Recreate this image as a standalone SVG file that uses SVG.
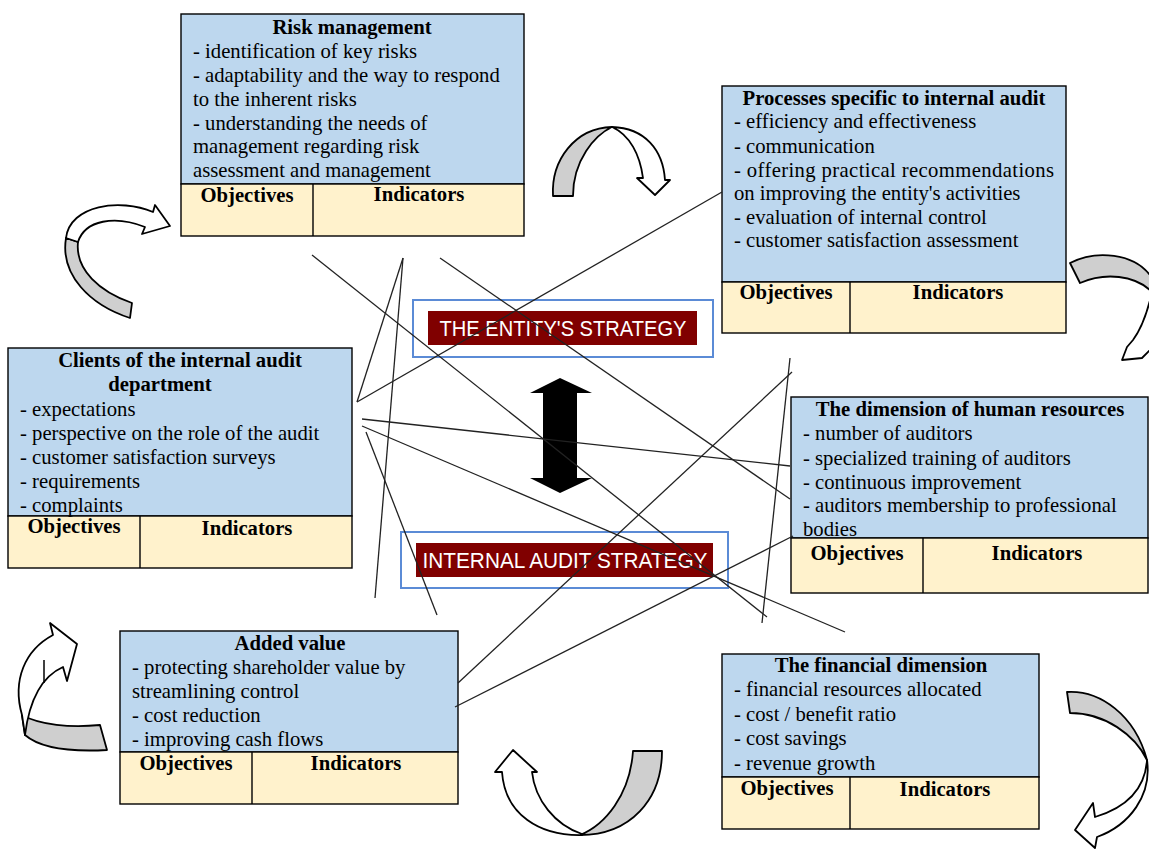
<svg xmlns="http://www.w3.org/2000/svg" width="1149" height="850" viewBox="0 0 1149 850">
<style>
.blue{fill:#BDD7EE;stroke:#000;stroke-width:1.4}
.beige{fill:#FFF2CC;stroke:#000;stroke-width:1.4}
.div{stroke:#000;stroke-width:1.4}
text{font-family:"Liberation Serif","Times New Roman",serif;font-size:20.7px;fill:#000}
.t{font-weight:bold;text-anchor:middle}
.h{font-weight:bold;text-anchor:middle}
.ln{stroke:#222;stroke-width:1.3;fill:none}
.gray{fill:#CFCFCF;stroke:#000;stroke-width:1.8;stroke-linejoin:round}
.white{fill:#fff;stroke:#000;stroke-width:1.8;stroke-linejoin:round}
.sb{fill:#fff;stroke:#5B8BD6;stroke-width:2}
.sr{fill:#800000}
.st{font-family:"Liberation Sans",Arial,sans-serif;font-size:22px;fill:#fff;text-anchor:middle}
</style>
<rect width="1149" height="850" fill="#fff"/>

<g id="curved-arrows">
<path class="gray" d="M130,318 C90,305 60,275 66,238 L78,242 C75,270 100,292 132,303 Z"/>
<path class="white" d="M66,238 C70,205 120,198 153,212 L155,205 L170,226 L142,234 L145,227 C115,215 85,220 78,242 Z"/>
<path class="gray" d="M553,196 C551,160 575,128 612,127 C595,135 573,160 573,196 Z"/>
<path class="white" d="M612,127 C645,128 663,150 665,180 L670,180 L655,195 L637,178 L643,178 C640,155 630,135 612,127 Z"/>
<path class="gray" d="M1070,263 C1095,250 1135,252 1152,278 L1152,292 C1135,275 1105,272 1080,283 Z"/>
<path class="white" d="M1152,280 C1165,300 1162,330 1152,348 L1142,358 L1122,360 L1127,347 L1133,340 C1142,328 1148,310 1152,292 Z"/>
<path class="gray" d="M22,715 C40,725 70,728 100,725 L107,750 C70,752 40,748 25,735 Z"/>
<path class="white" d="M22,715 C12,680 25,650 53,635 L50,623 L77,644 L67,681 L63,667 C45,675 30,695 25,735 Z"/>
<line x1="44" y1="660" x2="44" y2="683" stroke="#000" stroke-width="1.5"/>
<path class="gray" d="M633,751 L662,751 C662,800 630,835 580,835 C605,825 630,795 633,751 Z"/>
<path class="white" d="M582,835 C540,836 505,815 502,772 L495,772 L513,750 L537,772 L532,772 C535,800 555,825 582,834 Z"/>
<path class="gray" d="M1067,692 C1100,690 1135,715 1147,760 C1135,735 1105,713 1070,713 Z"/>
<path class="white" d="M1147,760 C1152,795 1130,825 1097,837 L1095,848 L1075,830 L1093,803 L1095,817 C1125,808 1145,790 1147,760 Z"/>
</g>

<g id="strategy-entity">
<rect class="sb" x="413" y="300" width="300" height="57"/>
<rect class="sr" x="428" y="311" width="269" height="34"/>
<text class="st" x="563" y="336" textLength="247" lengthAdjust="spacingAndGlyphs">THE ENTITY'S STRATEGY</text>
</g>
<g id="strategy-audit">
<rect class="sb" x="401" y="532" width="327" height="56"/>
<rect class="sr" x="416" y="543" width="297" height="34"/>
<text class="st" x="565" y="568" textLength="285" lengthAdjust="spacingAndGlyphs">INTERNAL AUDIT STRATEGY</text>
</g>
<g id="double-arrow">
<path d="M560,378 L592,393 L577,393 L577,478 L592,478 L560,493 L530,478 L543,478 L543,393 L530,393 Z" fill="#000"/>
</g>

<g id="risk-management">
<rect class="blue" x="181" y="14" width="343" height="170"/>
<rect class="beige" x="181" y="184" width="343" height="52"/>
<line class="div" x1="313" y1="184" x2="313" y2="236"/>
<text class="t" x="352" y="34">Risk management</text>
<text x="193" y="58">- identification of key risks</text>
<text x="193" y="82">- adaptability and the way to respond</text>
<text x="193" y="106">to the inherent risks</text>
<text x="193" y="130">- understanding the needs of</text>
<text x="193" y="153">management regarding risk</text>
<text x="193" y="177">assessment and management</text>
<text class="h" x="247" y="202">Objectives</text>
<text class="h" x="419" y="201">Indicators</text>
</g>

<g id="processes">
<rect class="blue" x="722" y="86" width="344" height="196"/>
<rect class="beige" x="722" y="282" width="344" height="51"/>
<line class="div" x1="850" y1="282" x2="850" y2="333"/>
<text class="t" x="894" y="105">Processes specific to internal audit</text>
<text x="734" y="128">- efficiency and effectiveness</text>
<text x="734" y="153">- communication</text>
<text x="734" y="177" textLength="320" lengthAdjust="spacing">-  offering  practical  recommendations</text>
<text x="734" y="200">on improving the entity's activities</text>
<text x="734" y="224">- evaluation of internal control</text>
<text x="734" y="247">- customer satisfaction assessment</text>
<text class="h" x="786" y="299">Objectives</text>
<text class="h" x="958" y="299">Indicators</text>
</g>

<g id="clients">
<rect class="blue" x="8" y="348" width="344" height="168"/>
<rect class="beige" x="8" y="516" width="344" height="52"/>
<line class="div" x1="140" y1="516" x2="140" y2="568"/>
<text class="t" x="180" y="367">Clients of the internal audit</text>
<text class="t" x="160" y="391">department</text>
<text x="20" y="416">- expectations</text>
<text x="20" y="440">- perspective on the role of the audit</text>
<text x="20" y="464">- customer satisfaction surveys</text>
<text x="20" y="488">- requirements</text>
<text x="20" y="512">- complaints</text>
<text class="h" x="74" y="533">Objectives</text>
<text class="h" x="247" y="535">Indicators</text>
</g>

<g id="human-resources">
<rect class="blue" x="791" y="397" width="357" height="141"/>
<rect class="beige" x="791" y="538" width="357" height="55"/>
<line class="div" x1="923" y1="538" x2="923" y2="593"/>
<text class="t" x="970" y="416">The dimension of human resources</text>
<text x="803" y="440">- number of auditors</text>
<text x="803" y="465">- specialized training of auditors</text>
<text x="803" y="489">- continuous improvement</text>
<text x="803" y="512">- auditors membership to professional</text>
<text x="803" y="536">bodies</text>
<text class="h" x="857" y="560">Objectives</text>
<text class="h" x="1037" y="560">Indicators</text>
</g>

<g id="added-value">
<rect class="blue" x="120" y="631" width="338" height="121"/>
<rect class="beige" x="120" y="752" width="338" height="52"/>
<line class="div" x1="252" y1="752" x2="252" y2="804"/>
<text class="t" x="290" y="650">Added value</text>
<text x="132" y="674">- protecting shareholder value by</text>
<text x="132" y="698">streamlining control</text>
<text x="132" y="722">- cost reduction</text>
<text x="132" y="746">- improving cash flows</text>
<text class="h" x="186" y="770">Objectives</text>
<text class="h" x="356" y="770">Indicators</text>
</g>

<g id="financial">
<rect class="blue" x="722" y="654" width="317" height="123"/>
<rect class="beige" x="722" y="777" width="317" height="52"/>
<line class="div" x1="850" y1="777" x2="850" y2="829"/>
<text class="t" x="881" y="672">The financial dimension</text>
<text x="734" y="696">- financial resources allocated</text>
<text x="734" y="721">- cost / benefit ratio</text>
<text x="734" y="745">- cost savings</text>
<text x="734" y="770">- revenue growth</text>
<text class="h" x="787" y="795">Objectives</text>
<text class="h" x="945" y="796">Indicators</text>
</g>

<g id="connectors">
<line class="ln" x1="312" y1="255" x2="767" y2="617"/>
<line class="ln" x1="403" y1="258" x2="357" y2="402"/>
<line class="ln" x1="403" y1="258" x2="375" y2="598"/>
<line class="ln" x1="357" y1="402" x2="722" y2="192"/>
<line class="ln" x1="440" y1="258" x2="790" y2="499"/>
<line class="ln" x1="362" y1="419" x2="790" y2="466"/>
<line class="ln" x1="362" y1="426" x2="845" y2="632"/>
<line class="ln" x1="366" y1="432" x2="437" y2="615"/>
<line class="ln" x1="792" y1="372" x2="458" y2="683"/>
<line class="ln" x1="793" y1="536" x2="455" y2="707"/>
<line class="ln" x1="790" y1="358" x2="762" y2="623"/>
</g>
</svg>
